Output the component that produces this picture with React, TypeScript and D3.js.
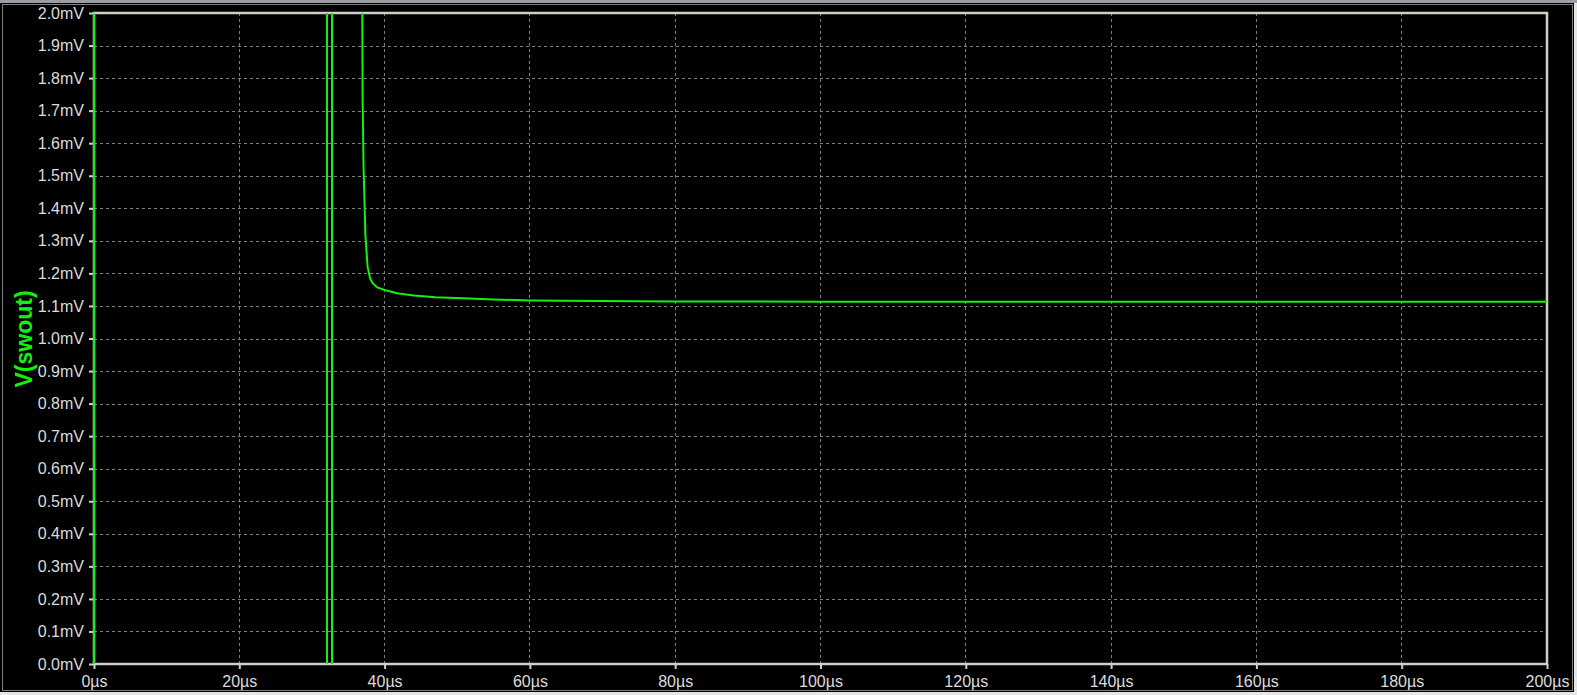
import React, { useEffect, useRef } from 'react';
import * as d3 from 'd3';

// trace samples (time in µs, voltage in mV)
// values outside 0..2 mV are where the trace leaves the window
const timeUs = [0, 0, 32.07, 32.07, 32.76, 32.76, 36.88, 36.93, 36.98, 37.1, 37.35, 37.66, 38.0, 38.35, 39.0, 40, 41.7, 44, 47, 50.8, 55, 60, 70, 80, 100, 150, 200];
const voltMv = [-5, 5, 5, -5, -5, 5, 2.1, 2.0, 1.73, 1.53, 1.32, 1.22, 1.185, 1.17, 1.157, 1.149, 1.139, 1.132, 1.127, 1.124, 1.12, 1.117, 1.115, 1.114, 1.113, 1.113, 1.113];

const xTicks = [0, 20, 40, 60, 80, 100, 120, 140, 160, 180, 200];
const yTicks = [0, 0.1, 0.2, 0.3, 0.4, 0.5, 0.6, 0.7, 0.8, 0.9, 1.0, 1.1, 1.2, 1.3, 1.4, 1.5, 1.6, 1.7, 1.8, 1.9, 2.0];
const traceName = 'V(swout)';

const W = 1577;
const H = 695;

export default function App() {
  const ref = useRef<SVGSVGElement>(null);

  useEffect(() => {
    const svg = d3.select(ref.current);
    svg.selectAll('*').remove();

    const margin = { top: 13, right: 30, bottom: 31, left: 94 };
    const x = d3.scaleLinear().domain([0, 200]).range([margin.left, W - margin.right]);
    const y = d3.scaleLinear().domain([0, 2]).range([H - margin.bottom, margin.top]);
    const font = 'Liberation Sans, Arial, sans-serif';

    // window frame
    svg.append('rect').attr('width', W).attr('height', H).attr('fill', '#e6e6e6');
    svg.append('rect').attr('width', W).attr('height', 3).attr('fill', '#9c9ca4');
    svg.append('rect').attr('x', 0).attr('y', 3).attr('width', 1574).attr('height', 689).attr('fill', '#000');
    svg.append('rect')
      .attr('x', 2.5).attr('y', 4.5).attr('width', 1570).attr('height', 686)
      .attr('fill', 'none').attr('stroke', '#fff').attr('stroke-dasharray', '1,1');

    // grid
    svg.append('g').selectAll('line')
      .data(xTicks.slice(1, -1))
      .enter().append('line')
      .attr('x1', (d) => x(d)).attr('x2', (d) => x(d))
      .attr('y1', y(0)).attr('y2', y(2))
      .attr('stroke', '#808080').attr('stroke-dasharray', '3,3')
      .attr('shape-rendering', 'crispEdges');
    svg.append('g').selectAll('line')
      .data(yTicks.slice(1, -1))
      .enter().append('line')
      .attr('x1', x(0)).attr('x2', x(200))
      .attr('y1', (d) => Math.round(y(d)) + 0.5).attr('y2', (d) => Math.round(y(d)) + 0.5)
      .attr('stroke', '#808080').attr('stroke-dasharray', '3,3');

    // axes box
    const axisColor = '#cfcfcf';
    svg.append('rect')
      .attr('x', x(0)).attr('y', y(2)).attr('width', x(200) - x(0)).attr('height', y(0) - y(2))
      .attr('fill', 'none').attr('stroke', axisColor).attr('stroke-width', 2.5);

    const xAxis = d3.axisBottom(x).tickValues(xTicks).tickSize(5).tickFormat((d) => `${d}µs`);
    const gx = svg.append('g').attr('transform', `translate(0,${y(0)})`).call(xAxis);
    gx.select('.domain').remove();
    gx.selectAll('line').attr('stroke', axisColor).attr('stroke-width', 2);
    gx.selectAll('text')
      .attr('fill', '#dcdcdc').attr('font-family', font)
      .attr('font-size', 16).attr('dy', '0.71em').attr('y', 12);

    const yAxis = d3.axisLeft(y).tickValues(yTicks).tickSize(5).tickFormat((d) => `${(+d).toFixed(1)}mV`);
    const gy = svg.append('g').attr('transform', `translate(${x(0)},0)`).call(yAxis);
    gy.select('.domain').remove();
    gy.selectAll('line').attr('stroke', axisColor).attr('stroke-width', 2);
    gy.selectAll('text')
      .attr('fill', '#dcdcdc').attr('font-family', font)
      .attr('font-size', 16).attr('x', -10);

    // trace
    svg.append('clipPath').attr('id', 'plot-clip')
      .append('rect')
      .attr('x', x(0) - 1).attr('y', y(2)).attr('width', x(200) - x(0) + 1).attr('height', y(0) - y(2));

    const line = d3.line<number>()
      .x((d, i) => x(timeUs[i]))
      .y((d) => y(d));

    svg.append('path')
      .datum(voltMv)
      .attr('clip-path', 'url(#plot-clip)')
      .attr('d', line)
      .attr('fill', 'none')
      .attr('stroke', '#14f014')
      .attr('stroke-width', 2);

    // y label
    svg.append('text')
      .attr('transform', `translate(32,339) rotate(-90)`)
      .attr('text-anchor', 'middle')
      .attr('fill', '#14f014')
      .attr('font-family', font)
      .attr('font-weight', 'bold')
      .attr('font-size', 23)
      .text(traceName);
  }, []);

  return (
    <div style={{ position: 'fixed', left: 0, top: 0 }}>
      <svg ref={ref} width={W} height={H} style={{ display: 'block' }} />
    </div>
  );
}
